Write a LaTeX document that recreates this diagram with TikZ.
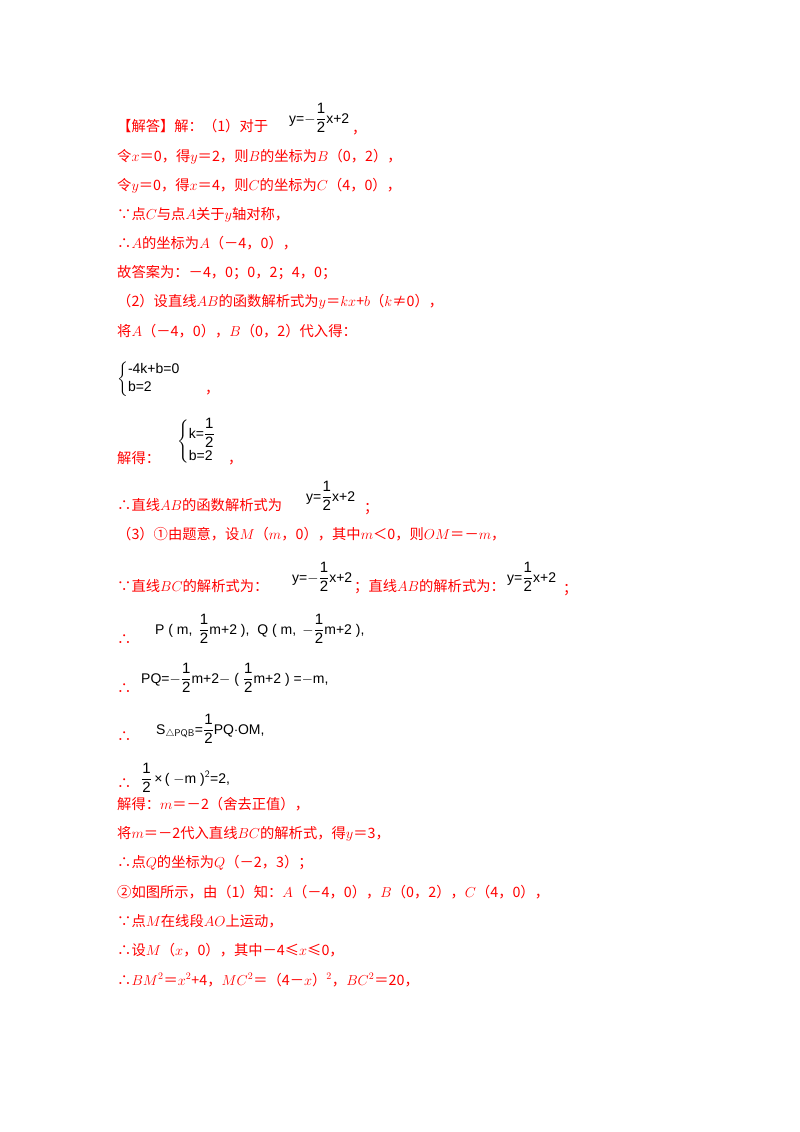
\documentclass[tikz,border=0pt]{standalone}
\usepackage{amsmath}
\usepackage{fontspec}
\setmainfont{Noto Sans CJK SC}
\newfontfamily\mf{Liberation Sans}
\definecolor{ansred}{RGB}{255,0,0}
\tikzset{t/.style={anchor=base west,inner sep=0pt,text=ansred,font=\fontsize{14.3}{17}\selectfont},
m/.style={anchor=base west,inner sep=0pt,text=black,font=\fontsize{14}{16}\mf}}
\newcommand{\fr}[2]{\ensuremath{\dfrac{\mbox{\fontsize{15}{15}\mf #1}}{\mbox{\fontsize{15}{15}\mf #2}}}}
\begin{document}
\begin{tikzpicture}[x=1pt,y=-1pt]
\useasboundingbox (0,0) rectangle (800,1132);
\node[t] (a1) at (117,131) {【解答】解：（1）对于};
\node[m] (m1) at (289,123) {y=$-$\fr{1}{2}x+2};
\node[t] (c1) at (352,133) {，};
\node[t] (a2) at (117,161) {令$x$＝0，得$y$＝2，则$B$的坐标为$B$（0，2），};
\node[t] (a3) at (117,190) {令$y$＝0，得$x$＝4，则$C$的坐标为$C$（4，0），};
\node[t] (a4) at (117,219) {∵点$C$与点$A$关于$y$轴对称，};
\node[t] (a5) at (117,248) {∴$A$的坐标为$A$（－4，0），};
\node[t] (a6) at (117,277) {故答案为：－4，0；0，2；4，0；};
\node[t] (a7) at (117,306) {（2）设直线$AB$的函数解析式为$y$＝$kx$+$b$（$k$≠0），};
\node[t] (a8) at (117,336) {将$A$（－4，0），$B$（0，2）代入得：};
\node[m] (s1) at (117,383) {$\left\{\begin{array}{@{}l}\mbox{\mf -4k+b=0}\\[2pt] \mbox{\mf b=2}\end{array}\right.$};
\node[t] (c2) at (205,393) {，};
\node[t] (a9) at (117,463) {解得：};
\node[m] (s2) at (177,445) {$\left\{\begin{array}{@{}l}\mbox{\mf k=}\fr{1}{2}\\[6pt] \mbox{\mf b=2}\end{array}\right.$};
\node[t] (c3) at (228,463) {，};
\node[t] (a10) at (117,510) {∴直线$AB$的函数解析式为};
\node[m] (m2) at (306,501) {y=\fr{1}{2}x+2};
\node[t] (c4) at (364,512) {；};
\node[t] (a11) at (117,539) {（3）①由题意，设$M$（$m$，0），其中$m$＜0，则$OM$＝－$m$，};
\node[t] (a12) at (117,591) {∵直线$BC$的解析式为：};
\node[m] (m3) at (292,582) {y=$-$\fr{1}{2}x+2};
\node[t] (a13) at (354,591) {；直线$AB$的解析式为：};
\node[m] (m4) at (507,582) {y=\fr{1}{2}x+2};
\node[t] (c5) at (563,593) {；};
\node[t] (a14) at (117,644) {∴};
\node[m] (m5) at (155,634) {P ( m,\, \fr{1}{2}m+2 ),\; Q ( m,\, $-$\fr{1}{2}m+2 ),};
\node[t] (a15) at (117,693) {∴};
\node[m] (m6) at (141,683) {PQ=$-$\fr{1}{2}m+2$-$ ( \fr{1}{2}m+2 ) =$-$m,};
\node[t] (a16) at (117,741) {∴};
\node[m] (m7) at (156,734) {S$_{\triangle\textsf{PQB}}$=\fr{1}{2}PQ$\cdot$OM,};
\node[t] (a17) at (117,788) {∴};
\node[m] (m8) at (141,783) {\fr{1}{2}\,×\,( $-$m )$^{\textsf{2}}$=2,};
\node[t] (a18) at (117,809) {解得：$m$＝－2（舍去正值），};
\node[t] (a19) at (117,838) {将$m$＝－2代入直线$BC$的解析式，得$y$＝3，};
\node[t] (a20) at (117,867) {∴点$Q$的坐标为$Q$（－2，3）；};
\node[t] (a21) at (117,897) {②如图所示，由（1）知：$A$（－4，0），$B$（0，2），$C$（4，0），};
\node[t] (a22) at (117,926) {∵点$M$在线段$AO$上运动，};
\node[t] (a23) at (117,955) {∴设$M$（$x$，0），其中－4≤$x$≤0，};
\node[t] (a24) at (117,985) {∴$BM^2$＝$x^2$+4，$MC^2$＝（4－$x$）$^2$，$BC^2$＝20，};
\end{tikzpicture}
\end{document}
